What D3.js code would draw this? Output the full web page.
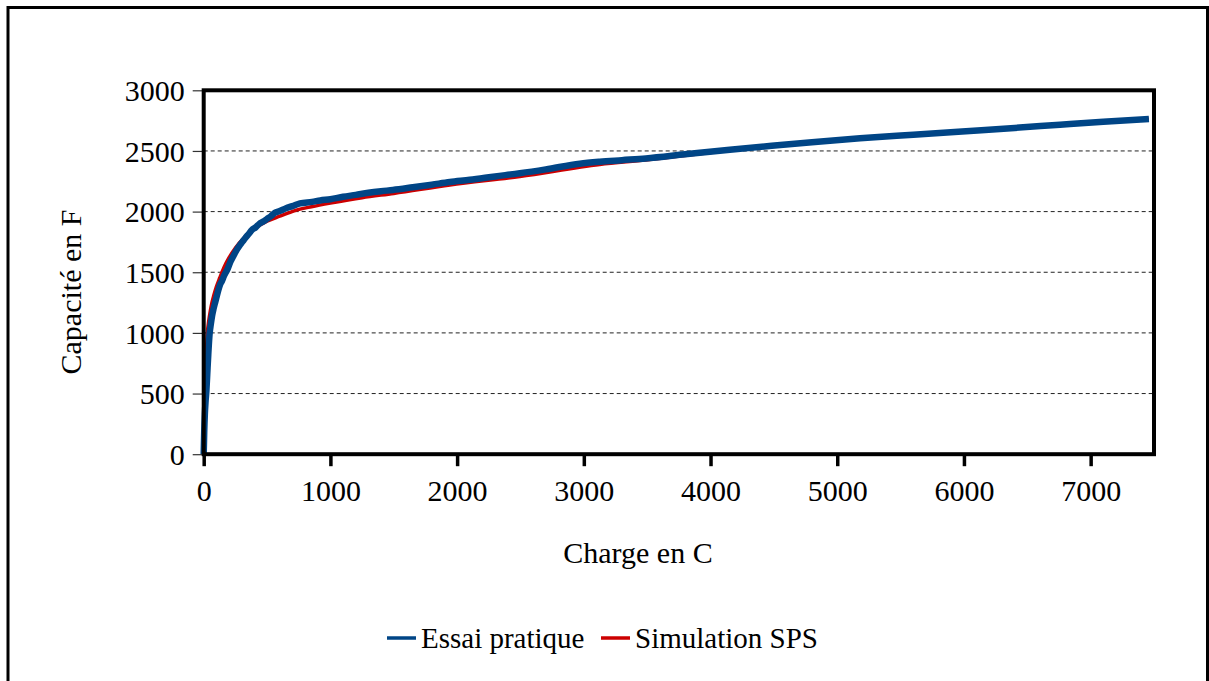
<!DOCTYPE html>
<html>
<head>
<meta charset="utf-8">
<script src="https://cdn.jsdelivr.net/npm/d3@7"></script>
<style>
  html, body { margin: 0; padding: 0; background: #fff; }
  svg { display: block; }
  text { font-family: "Liberation Serif", "Times New Roman", serif; fill: #000; }
</style>
</head>
<body>
<svg id="chart" width="1209" height="681"></svg>
<script>
// ---- Data ----
const xTicks = [0, 1000, 2000, 3000, 4000, 5000, 6000, 7000];
const yTicks = [0, 500, 1000, 1500, 2000, 2500, 3000];
const gridValues = [500, 1000, 1500, 2000, 2500];

const essaiCharge = [0, 4, 9, 15, 21, 28, 36, 47, 56, 66, 78, 90, 100, 115, 130, 145, 160, 175, 190, 210, 230, 255, 280, 305, 330, 355, 380, 410, 440, 470, 500, 530, 562, 600, 650, 700, 760, 855, 920, 1000, 1100, 1200, 1300, 1400, 1493, 1650, 1800, 1943, 2100, 2300, 2495, 2700, 2968, 3126, 3300, 3489, 3800, 4152, 4483, 4800, 5180, 5600, 5985, 6400, 6758, 7100, 7460];
const essaiCapa   = [0, 180, 330, 440, 520, 660, 820, 1000, 1070, 1140, 1200, 1250, 1290, 1350, 1400, 1430, 1470, 1500, 1530, 1585, 1625, 1675, 1715, 1750, 1785, 1815, 1849, 1870, 1900, 1918, 1940, 1962, 1990, 2005, 2028, 2045, 2068, 2080, 2092, 2102, 2122, 2138, 2155, 2168, 2178, 2200, 2222, 2244, 2262, 2290, 2316, 2348, 2395, 2411, 2424, 2438, 2472, 2510, 2543, 2572, 2604, 2634, 2661, 2690, 2716, 2740, 2763];

const simCharge = [0, 2, 5, 8, 13, 19, 29, 40, 52, 65, 80, 100, 127, 160, 200, 250, 325, 400, 500, 600, 697, 760, 850, 1000, 1250, 1500, 1943, 2495, 3126, 3489, 4152, 4483, 5180, 5985, 6758, 7460];
const simCapa   = [0, 200, 350, 500, 650, 800, 1000, 1100, 1180, 1250, 1310, 1380, 1455, 1540, 1620, 1700, 1790, 1858, 1920, 1962, 2000, 2020, 2040, 2070, 2115, 2150, 2219, 2290, 2388, 2425, 2505, 2540, 2604, 2660, 2713, 2762];

const seriesNames = ["Essai pratique", "Simulation SPS"];
const seriesColors = ["#004586", "#cc0000"];

const essai = essaiCharge.map((q, i) => ({ q, c: essaiCapa[i] }));
const sim = simCharge.map((q, i) => ({ q, c: simCapa[i] }));

// ---- Layout ----
const svg = d3.select("#chart");
const plot = { left: 203.7, right: 1154, top: 90.3, bottom: 454.2 };
const FS = 30;

const x = d3.scaleLinear().domain([0, 7500]).range([plot.left, plot.right]);
const y = d3.scaleLinear().domain([0, 3000]).range([plot.bottom, plot.top]);

// outer border
svg.append("rect")
  .attr("x", 8).attr("y", 7.5)
  .attr("width", 1199.5).attr("height", 700)
  .attr("fill", "none").attr("stroke", "#000").attr("stroke-width", 3);

// gridlines
svg.append("g").selectAll("line").data(gridValues).join("line")
  .attr("x1", plot.left).attr("x2", plot.right)
  .attr("y1", d => y(d)).attr("y2", d => y(d))
  .attr("stroke", "#222").attr("stroke-width", 1)
  .attr("stroke-dasharray", "4,3");

// Y axis
const yAxis = d3.axisLeft(y).tickValues(yTicks).tickSize(11).tickPadding(8).tickFormat(d3.format("d"));
const gy = svg.append("g").attr("transform", `translate(${plot.left},0)`).call(yAxis);
gy.select(".domain").remove();
gy.selectAll(".tick line").attr("stroke", "#333").attr("stroke-width", 1.2);
gy.selectAll(".tick text")
  .style("font-family", '"Liberation Serif", serif')
  .attr("font-size", FS).attr("fill", "#000")
  .attr("x", -19).attr("dy", "0.34em");

// X axis
const xAxis = d3.axisBottom(x).tickValues(xTicks).tickSize(12).tickPadding(16).tickFormat(d3.format("d"));
const gx = svg.append("g").attr("transform", `translate(0,${plot.bottom})`).call(xAxis);
gx.select(".domain").remove();
gx.selectAll(".tick line").attr("stroke", "#000").attr("stroke-width", 3.5);
gx.selectAll(".tick text")
  .style("font-family", '"Liberation Serif", serif')
  .attr("font-size", FS).attr("fill", "#000")
  .attr("dy", "0.71em").attr("y", 26);

svg.append("path").datum(sim)
  .attr("d", d3.line().x(d => x(d.q)).y(d => y(d.c)).curve(d3.curveMonotoneX))
  .attr("fill", "none").attr("stroke", seriesColors[1]).attr("stroke-width", 3.5)
  .attr("stroke-linejoin", "round");

svg.append("path").datum(essai)
  .attr("d", d3.line().x(d => x(d.q)).y(d => y(d.c)).curve(d3.curveMonotoneX))
  .attr("fill", "none").attr("stroke", seriesColors[0]).attr("stroke-width", 6.5)
  .attr("stroke-linejoin", "round");

// frame
svg.append("rect")
  .attr("x", plot.left).attr("y", plot.top)
  .attr("width", plot.right - plot.left).attr("height", plot.bottom - plot.top)
  .attr("fill", "none").attr("stroke", "#000").attr("stroke-width", 4);

// axis titles
svg.append("text")
  .attr("x", 638).attr("y", 563)
  .attr("text-anchor", "middle").attr("font-size", FS)
  .text("Charge en C");

svg.append("text")
  .attr("transform", "translate(81,292) rotate(-90)")
  .attr("text-anchor", "middle").attr("font-size", FS)
  .text("Capacité en F");

// legend
const legendItems = [
  { name: seriesNames[0], color: seriesColors[0], x: 387 },
  { name: seriesNames[1], color: seriesColors[1], x: 601 }
];
const lg = svg.append("g");
legendItems.forEach(it => {
  lg.append("line")
    .attr("x1", it.x).attr("x2", it.x + 29)
    .attr("y1", 638).attr("y2", 638)
    .attr("stroke", it.color).attr("stroke-width", 3.5);
  lg.append("text")
    .attr("x", it.x + 34).attr("y", 648)
    .attr("font-size", 29)
    .text(it.name);
});
</script>
</body>
</html>
